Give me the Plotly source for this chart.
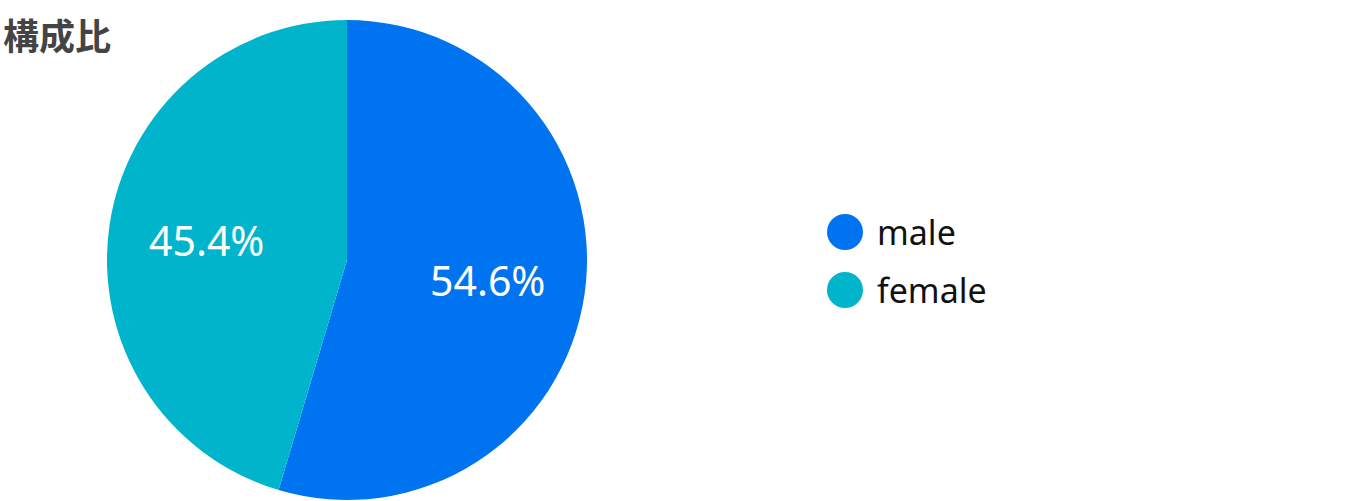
import math
import plotly.graph_objects as go

labels = ["male", "female"]
values = [54.6, 45.4]
colors = ["#0074F0", "#00B5CB"]
title_text = "構成比"

W, H = 1349, 501
PIE_L, PIE_R, PIE_T, PIE_B = 107, 587, 20, 500

fig = go.Figure()
fig.add_trace(go.Pie(
    labels=labels, values=values, sort=False, direction="clockwise", rotation=0,
    marker=dict(colors=colors, line=dict(width=0)),
    textinfo="none", showlegend=False, hoverinfo="label+percent",
    domain=dict(x=[PIE_L / W, PIE_R / W], y=[1 - PIE_B / H, 1 - PIE_T / H]),
))

annotations = []
# percent labels, placed a bit further out than plotly's default
cx, cy0, rad = (PIE_L + PIE_R) / 2, (PIE_T + PIE_B) / 2, (PIE_R - PIE_L) / 2
total = sum(values)
cum = 0
for v in values:
    mid = (cum + v / 2) / total * 2 * math.pi
    cum += v
    px_ = cx + 0.59 * rad * math.sin(mid)
    py_ = cy0 - 0.59 * rad * math.cos(mid)
    annotations.append(dict(text=f"{v / total * 100:.1f}%", x=px_ / W, y=1 - py_ / H,
                            xref="paper", yref="paper", showarrow=False,
                            xanchor="center", yanchor="middle",
                            font=dict(family="Noto Sans", size=41, color="white")))

# custom legend: big circle markers
shapes = []
for i, (lab, col) in enumerate(zip(labels, colors)):
    ly = 1 - (232 + i * 58) / H
    shapes.append(dict(type="circle", xref="paper", yref="paper",
                       xsizemode="pixel", ysizemode="pixel",
                       xanchor=845 / W, yanchor=ly,
                       x0=-18, x1=18, y0=-18, y1=18,
                       fillcolor=col, line=dict(width=0)))
    annotations.append(dict(text=lab, x=875 / W, y=ly, xref="paper", yref="paper",
                            xanchor="left", yanchor="middle", showarrow=False,
                            font=dict(family="Noto Sans", size=34, color="#111")))

annotations.append(dict(text="<b>" + title_text + "</b>", x=0, y=1,
                        xref="paper", yref="paper", xanchor="left", yanchor="top",
                        xshift=1, yshift=-6, showarrow=False,
                        font=dict(family="Noto Sans CJK JP", size=36, color="#444")))

fig.update_layout(
    width=W, height=H, margin=dict(t=0, b=0, l=0, r=0),
    paper_bgcolor="white", plot_bgcolor="white",
    shapes=shapes, annotations=annotations, showlegend=False,
)
# drop the default 8px body margin so the figure sits at the page corner
fig.write_html("out.html", config={"displayModeBar": False},
               post_script="document.body.style.margin='0';")
